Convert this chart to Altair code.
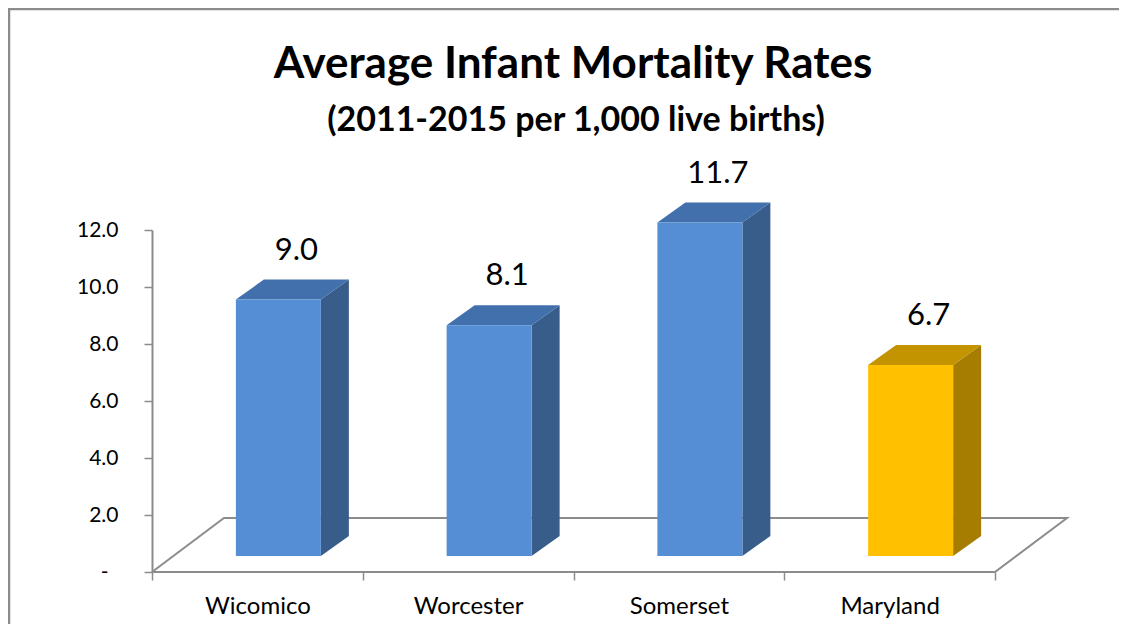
import json
import altair as alt
import pandas as pd

# ---------------- data ----------------
categories = ["Wicomico", "Worcester", "Somerset", "Maryland"]
rates = [9.0, 8.1, 11.7, 6.7]
front_colors = ["#558ED5", "#558ED5", "#558ED5", "#FFC000"]
top_colors = ["#4170AC", "#4170AC", "#4170AC", "#C49300"]
side_colors = ["#385D8A", "#385D8A", "#385D8A", "#A67D00"]
y_ticks = [0, 2, 4, 6, 8, 10, 12]
title_text = "Average Infant Mortality Rates"
subtitle_text = "(2011-2015 per 1,000 live births)"

# ---------------- geometry (styling) ----------------
W, H = 843, 342
Y_MAX = 12
N = len(categories)
PX_X = W / N
PX_Y = H / Y_MAX
FONT = "Lato"
GRAY = "#8C8C8C"
PAD = {"left": 144, "top": 222, "right": 124, "bottom": 52}


def ux(px):
    return px / PX_X


def uy(px):
    return px / PX_Y


FRONT_L, FRONT_R = -21.5, 63.5   # front face edges relative to category centre (px)
LIFT = 16                        # bar sits part way into the floor depth (px)
DEPTH_X, DEPTH_Y = 28, 20        # bar depth (px)
FLOOR_X, FLOOR_Y = 72, 54        # floor depth (px)

xscale = alt.Scale(domain=[-0.5, N - 0.5], nice=False, zero=False)
yscale = alt.Scale(domain=[0, Y_MAX], nice=False, zero=False)

front_rows, label_rows = [], []
face_layers = []
for i, (c, v) in enumerate(zip(categories, rates)):
    xl, xr = i + ux(FRONT_L), i + ux(FRONT_R)
    yb, yt = uy(LIFT), v + uy(LIFT)
    dx, dy = ux(DEPTH_X), uy(DEPTH_Y)
    front_rows.append(dict(cat=c, xl=xl, xr=xr, yb=yb, yt=yt, color=front_colors[i]))
    label_rows.append(dict(cat=c, idx=i, v=v, label=f"{v:.1f}"))

    # side face: parallelogram with vertical edges
    side_df = pd.DataFrame([
        dict(x=xr, y=yt, y2=yb),
        dict(x=xr + dx, y=yt + dy, y2=yb + dy),
    ])
    face_layers.append(
        alt.Chart(side_df).mark_area(color=side_colors[i], opacity=1).encode(
            x=alt.X("x:Q", scale=xscale),
            y=alt.Y("y:Q", scale=yscale, stack=None),
            y2="y2:Q",
        )
    )
    # top face: parallelogram with horizontal edges, as an upper/lower outline
    top_df = pd.DataFrame([
        dict(x=xl, y=yt, y2=yt),
        dict(x=xl + dx, y=yt + dy, y2=yt),
        dict(x=xr, y=yt + dy, y2=yt),
        dict(x=xr + dx, y=yt + dy, y2=yt + dy),
    ])
    face_layers.append(
        alt.Chart(top_df).mark_area(color=top_colors[i], opacity=1).encode(
            x=alt.X("x:Q", scale=xscale),
            y=alt.Y("y:Q", scale=yscale, stack=None),
            y2="y2:Q",
        )
    )

floor_rows = [
    dict(o=0, x=-0.5, y=0),
    dict(o=1, x=N - 0.5, y=0),
    dict(o=2, x=N - 0.5 + ux(FLOOR_X), y=uy(FLOOR_Y)),
    dict(o=3, x=-0.5 + ux(FLOOR_X), y=uy(FLOOR_Y)),
    dict(o=4, x=-0.5, y=0),
]

names_js = json.dumps(categories)
x_axis = alt.Axis(
    values=[i - 0.5 for i in range(N + 1)],
    labelExpr=f"datum.value < {N - 1} ? {names_js}[datum.value + 0.5] : ''",
    labelOffset=PX_X / 2,
    labelFlush=False,
    labelOverlap=False,
    labelFont=FONT,
    labelFontSize=24,
    labelColor="#000000",
    labelPadding=14,
    tickSize=8,
    tickColor=GRAY,
    tickWidth=1.5,
    domain=False,
    grid=False,
    title=None,
)
y_axis = alt.Axis(
    values=y_ticks,
    labelExpr="datum.value == 0 ? '-' : format(datum.value, '.1f')",
    labelFont=FONT,
    labelFontSize=21,
    labelColor="#000000",
    labelPadding={"condition": {"test": "datum.value == 0", "value": 36}, "value": 26},
    tickSize=8,
    tickColor=GRAY,
    tickWidth=1.5,
    domainColor=GRAY,
    domainWidth=2,
    grid=False,
    title=None,
)

floor = alt.Chart(pd.DataFrame(floor_rows)).mark_line(color=GRAY, strokeWidth=2).encode(
    x=alt.X("x:Q", scale=xscale, axis=x_axis),
    y=alt.Y("y:Q", scale=yscale, axis=y_axis),
    order="o:O",
)

front = alt.Chart(pd.DataFrame(front_rows)).mark_rect().encode(
    x=alt.X("xl:Q", scale=xscale),
    x2="xr:Q",
    y=alt.Y("yt:Q", scale=yscale),
    y2="yb:Q",
    color=alt.Color("color:N", scale=None),
)

labels = alt.Chart(pd.DataFrame(label_rows)).mark_text(
    font=FONT, fontSize=31, color="#000000", baseline="alphabetic", align="center", dx=39, dy=-56
).encode(
    x=alt.X("idx:Q", scale=xscale),
    y=alt.Y("v:Q", scale=yscale),
    text="label:N",
)

title = alt.Chart(pd.DataFrame([{"t": title_text}])).mark_text(
    font=FONT, fontSize=44, fontWeight="bold", color="#000000", align="center", baseline="alphabetic"
).encode(x=alt.value(421), y=alt.value(-152), text="t:N")

subtitle = alt.Chart(pd.DataFrame([{"t": subtitle_text}])).mark_text(
    font=FONT, fontSize=34, fontWeight="bold", color="#000000", align="center", baseline="alphabetic"
).encode(x=alt.value(424), y=alt.value(-99), text="t:N")

# chart frame: only its top and left edges are inside the picture
border_top = alt.Chart(pd.DataFrame([{"a": 0}])).mark_rule(color=GRAY, strokeWidth=2.5).encode(
    x=alt.value(-PAD["left"]), x2=alt.value(W + PAD["right"] + 40), y=alt.value(-PAD["top"] + 1)
)
border_left = alt.Chart(pd.DataFrame([{"a": 0}])).mark_rule(color=GRAY, strokeWidth=2.5).encode(
    x=alt.value(-PAD["left"] + 1), y=alt.value(-PAD["top"]), y2=alt.value(H + PAD["bottom"] + 40)
)
# keep the right edge of the drawing clean
edge_cover = alt.Chart(pd.DataFrame([{"a": 0}])).mark_rule(color="#FFFFFF", strokeWidth=6).encode(
    x=alt.value(W + PAD["right"] - 1), y=alt.value(-PAD["top"] + 3), y2=alt.value(H + PAD["bottom"] + 40)
)

chart = alt.layer(
    border_top, border_left, floor, *face_layers, front, labels, title, subtitle, edge_cover
).properties(
    width=W,
    height=H,
    autosize=alt.AutoSizeParams(type="none"),
    padding=PAD,
    background="#FFFFFF",
).configure_view(stroke=None)

chart.save("out.html", embed_options={"renderer": "svg", "actions": False})
